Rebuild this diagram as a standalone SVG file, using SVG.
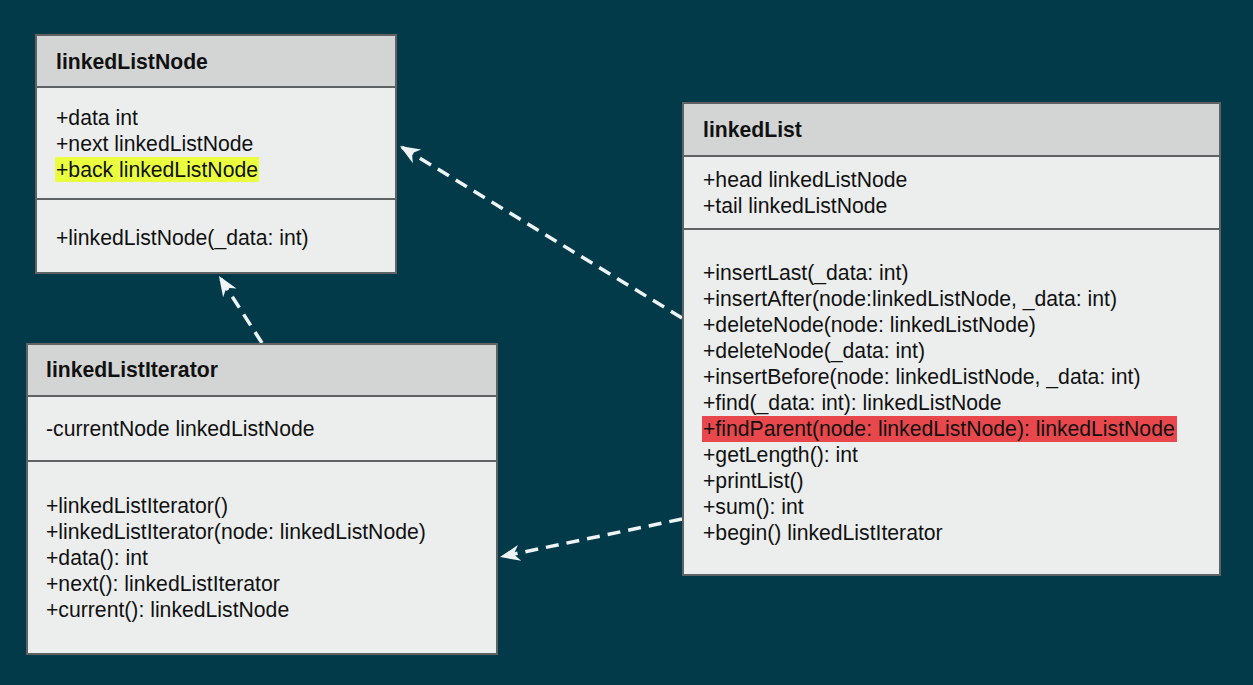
<svg xmlns="http://www.w3.org/2000/svg" width="1253" height="685" viewBox="0 0 1253 685">
<defs>
<style>
.box{fill:#eceeee;stroke:#5f6263;stroke-width:2}
.hdr{fill:#d3d5d5;stroke:#5f6263;stroke-width:2}
.div{stroke:#5f6263;stroke-width:2}
.t{font-family:"Liberation Sans",Arial,sans-serif;font-size:21.2px;fill:#111}
.b{font-weight:bold}
.edge{fill:none;stroke:#eef3f4;stroke-width:3.5;stroke-dasharray:13 8}
</style>
<marker id="arr" markerUnits="userSpaceOnUse" viewBox="-22 -10 24 20" refX="0" refY="0" markerWidth="24" markerHeight="20" orient="auto">
<path d="M0,0 L-20,-8 L-14,0 L-20,8 Z" fill="#eef3f4"/>
</marker>
</defs>
<rect width="1253" height="685" fill="#033a4a"/>

<g id="edges">
<path class="edge" d="M682,318 L400,146" marker-end="url(#arr)"/>
<path class="edge" d="M262,343 L219,276" marker-end="url(#arr)"/>
<path class="edge" d="M682,519 L500,557" marker-end="url(#arr)"/>
</g>

<g id="linkedListNode">
<rect class="box" x="36" y="35" width="360" height="238"/>
<rect class="hdr" x="36" y="35" width="360" height="52"/>
<line class="div" x1="36" y1="199" x2="396" y2="199"/>
<text class="t b" x="56" y="69">linkedListNode</text>
<text class="t" x="56" y="125">+data int</text>
<text class="t" x="56" y="151">+next linkedListNode</text>
<rect x="55" y="157" width="204" height="25" fill="#eaff3e"/>
<text class="t" x="56" y="177">+back linkedListNode</text>
<text class="t" x="56" y="245">+linkedListNode(_data: int)</text>
</g>

<g id="linkedList">
<rect class="box" x="683" y="103" width="537" height="472"/>
<rect class="hdr" x="683" y="103" width="537" height="53"/>
<line class="div" x1="683" y1="229" x2="1220" y2="229"/>
<text class="t b" x="703" y="137">linkedList</text>
<text class="t" x="703" y="187">+head linkedListNode</text>
<text class="t" x="703" y="213">+tail linkedListNode</text>
<text class="t" x="703" y="280">+insertLast(_data: int)</text>
<text class="t" x="703" y="306">+insertAfter(node:linkedListNode, _data: int)</text>
<text class="t" x="703" y="332">+deleteNode(node: linkedListNode)</text>
<text class="t" x="703" y="358">+deleteNode(_data: int)</text>
<text class="t" x="703" y="384">+insertBefore(node: linkedListNode, _data: int)</text>
<text class="t" x="703" y="410">+find(_data: int): linkedListNode</text>
<rect x="702" y="416" width="475" height="26" fill="#e8474c"/>
<text class="t" x="703" y="436">+findParent(node: linkedListNode): linkedListNode</text>
<text class="t" x="703" y="462">+getLength(): int</text>
<text class="t" x="703" y="488">+printList()</text>
<text class="t" x="703" y="514">+sum(): int</text>
<text class="t" x="703" y="540">+begin() linkedListIterator</text>
</g>

<g id="linkedListIterator">
<rect class="box" x="27" y="344" width="470" height="310"/>
<rect class="hdr" x="27" y="344" width="470" height="52"/>
<line class="div" x1="27" y1="461" x2="497" y2="461"/>
<text class="t b" x="46" y="377">linkedListIterator</text>
<text class="t" x="46" y="436">-currentNode linkedListNode</text>
<text class="t" x="46" y="513">+linkedListIterator()</text>
<text class="t" x="46" y="539">+linkedListIterator(node: linkedListNode)</text>
<text class="t" x="46" y="565">+data(): int</text>
<text class="t" x="46" y="591">+next(): linkedListIterator</text>
<text class="t" x="46" y="617">+current(): linkedListNode</text>
</g>
</svg>
